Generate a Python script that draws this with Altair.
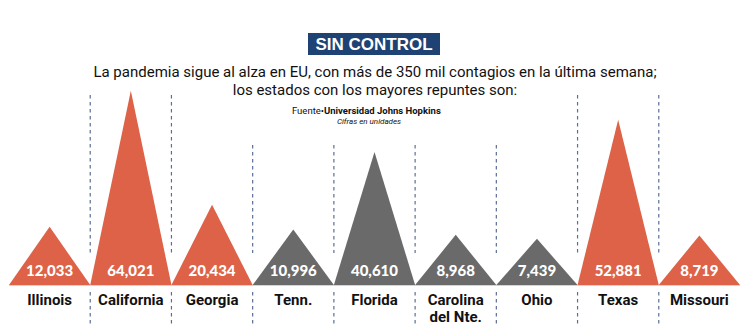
import altair as alt
import pandas as pd

# ---- data ----
states = ["Illinois", "California", "Georgia", "Tenn.", "Florida",
          "Carolina\ndel Nte.", "Ohio", "Texas", "Missouri"]
values = [12033, 64021, 20434, 10996, 40610, 8968, 7439, 52881, 8719]
groups = ["naranja", "naranja", "naranja", "gris", "gris", "gris", "gris",
          "naranja", "naranja"]

title_text = ["SIN CONTROL"]
subtitle_lines = [
    "La pandemia sigue al alza en EU, con más de 350 mil contagios en la última semana;",
    "los estados con los mayores repuntes son:",
]
source_prefix = "Fuente•"
source_name = "Universidad Johns Hopkins"
units_note = "Cifras en unidades"

BASE = -10200  # baseline of the triangles in data units
YMAX = 70000

# ---- tables built from the arrays ----
tri_rows = []
for i, (s, v, g) in enumerate(zip(states, values, groups)):
    tri_rows.append({"state": s, "x": i, "v": BASE, "base": BASE, "group": g})
    tri_rows.append({"state": s, "x": i + 0.5, "v": v, "base": BASE, "group": g})
    tri_rows.append({"state": s, "x": i + 1, "v": BASE, "base": BASE, "group": g})
tri = pd.DataFrame(tri_rows)

lab = pd.DataFrame({"state": states, "value": values,
                    "xc": [i + 0.5 for i in range(len(states))]})

bnd_rows = []
for b in range(1, len(states)):
    tall = max(values[b - 1], values[b]) > 50000
    bnd_rows.append({"b": b, "tall": 1 if tall else 0})
bnd = pd.DataFrame(bnd_rows)

xs = alt.Scale(domain=[0, 9], range=[9, 740])
ys = alt.Scale(domain=[BASE, YMAX], range=[285, 75])
colors = alt.Scale(domain=["naranja", "gris"], range=["#DD6247", "#6A6A6A"])

SANS = "Roboto"
DASH = dict(color="#5a6f95", strokeWidth=1.2, strokeDash=[3.5, 3.5])


def X(field):
    return alt.X(field, scale=xs, axis=None)


triangles = alt.Chart(tri).mark_area(strokeWidth=0).encode(
    x=X("x:Q"),
    y=alt.Y("v:Q", scale=ys, axis=None, stack=None),
    y2="base:Q",
    color=alt.Color("group:N", scale=colors, legend=None),
    detail="state:N",
)

baseline = alt.Chart(lab).mark_rule(color="#d4d4d4", strokeWidth=1).encode(
    x=alt.value(9), x2=alt.value(740), y=alt.value(285.5)
)

rules_tall = alt.Chart(bnd).transform_filter("datum.tall == 1").mark_rule(**DASH).encode(
    x=X("b:Q"), y=alt.value(95), y2=alt.value(253),
)
rules_short = alt.Chart(bnd).transform_filter("datum.tall == 0").mark_rule(**DASH).encode(
    x=X("b:Q"), y=alt.value(145), y2=alt.value(253),
)
rules_bot = alt.Chart(bnd).mark_rule(**DASH).encode(
    x=X("b:Q"), y=alt.value(292), y2=alt.value(324),
)

nums = alt.Chart(lab).mark_text(
    font="Lato", fontWeight=900, fontSize=15, color="white", baseline="middle"
).encode(
    x=X("xc:Q"),
    y=alt.value(270.5),
    text=alt.Text("value:Q", format=","),
)

names = alt.Chart(lab).mark_text(
    font=SANS, fontWeight="bold", fontSize=15, color="#111111",
    baseline="middle", lineBreak="\n", lineHeight=17
).encode(
    x=X("xc:Q"),
    y=alt.value(300),
    text="state:N",
)

tdf = pd.DataFrame({"t": title_text})
title_box = alt.Chart(tdf).mark_rect(color="#1D4273").encode(
    x=alt.value(308), x2=alt.value(440), y=alt.value(33), y2=alt.value(55)
)
title = alt.Chart(tdf).mark_text(
    font="Liberation Sans", fontWeight="bold", fontSize=17, color="white",
    baseline="middle"
).encode(x=alt.value(374), y=alt.value(44.5), text="t:N")

sub1 = alt.Chart(pd.DataFrame({"t": [subtitle_lines[0]]})).mark_text(
    font=SANS, fontSize=15, color="#111111", baseline="middle"
).encode(x=alt.value(375), y=alt.value(72), text="t:N")
sub2 = alt.Chart(pd.DataFrame({"t": [subtitle_lines[1]]})).mark_text(
    font=SANS, fontSize=15, color="#111111", baseline="middle"
).encode(x=alt.value(375), y=alt.value(89.5), text="t:N")

src1 = alt.Chart(pd.DataFrame({"t": [source_prefix]})).mark_text(
    font=SANS, fontSize=9.5, color="#111111", align="right", baseline="middle"
).encode(x=alt.value(324), y=alt.value(111), text="t:N")
src2 = alt.Chart(pd.DataFrame({"t": [source_name]})).mark_text(
    font=SANS, fontSize=9.5, fontWeight="bold", color="#111111", align="left",
    baseline="middle"
).encode(x=alt.value(324), y=alt.value(111), text="t:N")
src3 = alt.Chart(pd.DataFrame({"t": [units_note]})).mark_text(
    font=SANS, fontSize=8, fontStyle="italic", color="#111111",
    baseline="middle"
).encode(x=alt.value(369), y=alt.value(122), text="t:N")

chart = alt.layer(
    rules_tall, rules_short, rules_bot, triangles, baseline, nums, names,
    title_box, title, sub1, sub2, src1, src2, src3
).properties(
    width=750, height=334, padding=0,
    autosize=alt.AutoSizeParams(type="none"),
    background="white",
).configure_view(stroke=None)

chart.save("out.html", embed_options={"renderer": "svg", "actions": False})
